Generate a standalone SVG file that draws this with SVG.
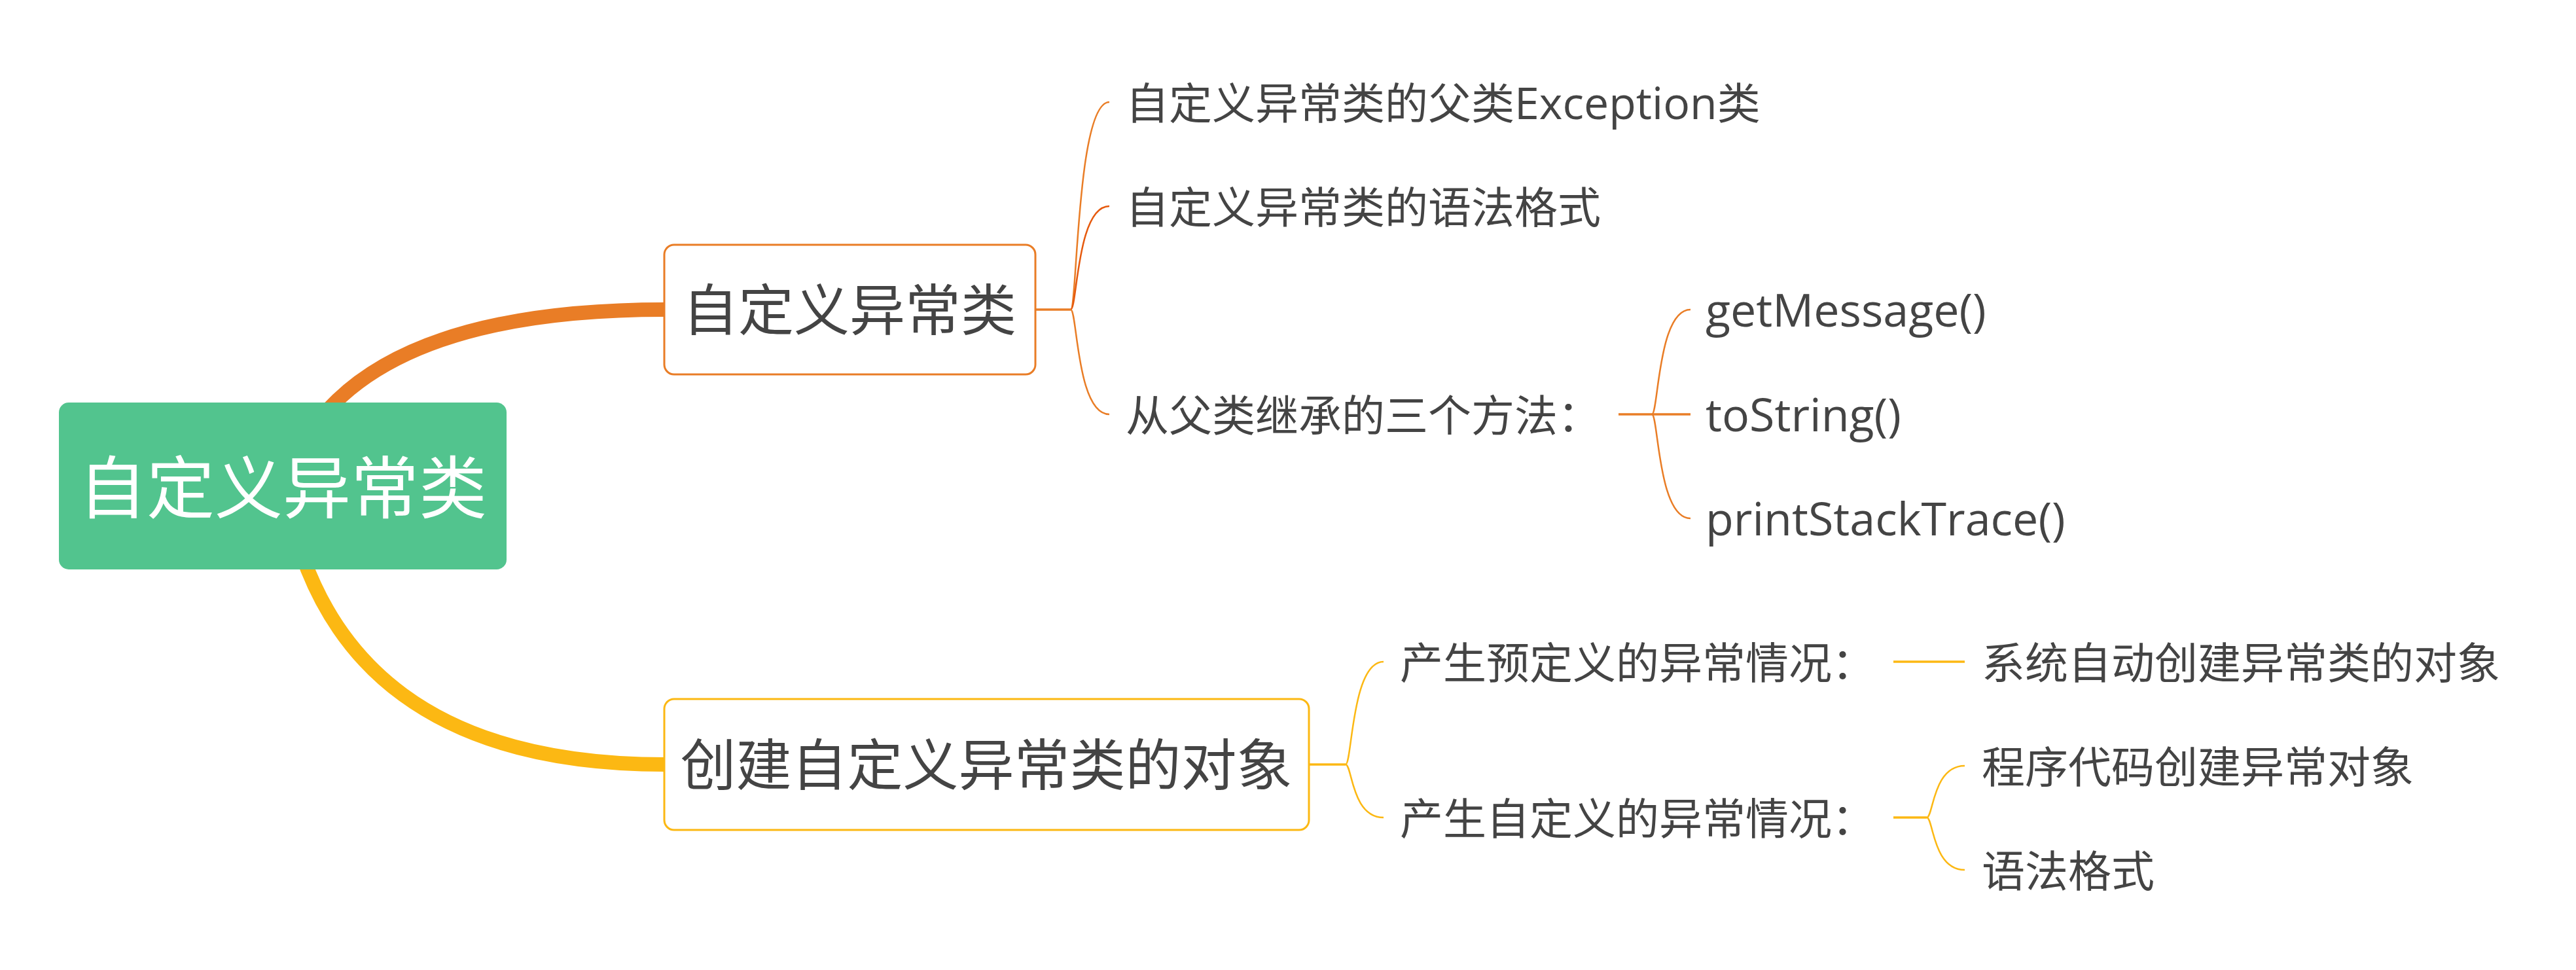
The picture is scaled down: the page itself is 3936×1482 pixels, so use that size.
<svg xmlns="http://www.w3.org/2000/svg" width="3936" height="1482" viewBox="0 0 3936 1482">
<style>
.t{font-family:"Open Sans","Noto Sans CJK SC",sans-serif;fill:#444444;}
.sub{font-size:66px;}
.lat{font-size:70px;}
.br{font-size:85px;}
.root{font-size:104px;fill:#ffffff;}
.o{fill:none;stroke:#E97D26;}
.y{fill:none;stroke:#FCB813;}
.thick{stroke-width:22;stroke-linecap:butt;}
.trunk{stroke-width:3.5;}
.thin{stroke-width:2.5;}
</style>
<rect x="0" y="0" width="3936" height="1482" fill="#ffffff"/>
<g id="connectors">
  <path class="o thick" d="M435,742 Q519,473 1016,473"/>
  <path class="y thick" d="M435,742 Q506,1168 1016,1168"/>
  <path class="o trunk" d="M1583,473 L1636,473"/>
  <path class="o thin" d="M1636,473 C1646,473 1645,156 1695,156"/>
  <path class="thin" fill="none" stroke="#E65A0E" d="M1636,473 C1646,473 1645,315 1695,315"/>
  <path class="o thin" d="M1636,473 C1646,473 1645,633 1695,633"/>
  <path class="o trunk" d="M2473,633 L2583,633"/>
  <path class="o thin" d="M2524,633 C2534,633 2533,473 2583,473"/>
  <path class="o thin" d="M2524,633 C2534,633 2533,792 2583,792"/>
  <path class="y trunk" d="M2001,1168 L2056,1168"/>
  <path class="y thin" d="M2056,1168 C2066,1168 2065,1011 2114,1011"/>
  <path class="y thin" d="M2056,1168 C2066,1168 2065,1249 2114,1249"/>
  <path class="y trunk" d="M2893,1011 L3002,1011"/>
  <path class="y trunk" d="M2893,1249 L2944,1249"/>
  <path class="y thin" d="M2944,1249 C2954,1249 2953,1170 3002,1170"/>
  <path class="y thin" d="M2944,1249 C2954,1249 2953,1329 3002,1329"/>
</g>
<g id="root">
  <rect x="90" y="615" width="684" height="255" rx="15" fill="#52C48E"/>
  <text class="t root" x="432" y="784" text-anchor="middle">自定义异常类</text>
</g>
<g id="branch1">
  <rect x="1015" y="374" width="567" height="198" rx="15" fill="#ffffff" stroke="#E97D26" stroke-width="3"/>
  <text class="t br" x="1298" y="505" text-anchor="middle">自定义异常类</text>
</g>
<g id="b1c1"><text class="t sub" x="1720" y="182">自定义异常类的父类<tspan style="font-size:68px">Exception</tspan>类</text></g>
<g id="b1c2"><text class="t sub" x="1720" y="341">自定义异常类的语法格式</text></g>
<g id="b1c3"><text class="t sub" x="1720" y="659">从父类继承的三个方法：</text></g>
<g id="b1c3g1"><text class="t lat" x="2606" y="499">getMessage()</text></g>
<g id="b1c3g2"><text class="t lat" x="2606" y="659">toString()</text></g>
<g id="b1c3g3"><text class="t lat" x="2606" y="818">printStackTrace()</text></g>
<g id="branch2">
  <rect x="1015" y="1068" width="985" height="200" rx="15" fill="#ffffff" stroke="#FCB813" stroke-width="3"/>
  <text class="t br" x="1507" y="1200" text-anchor="middle">创建自定义异常类的对象</text>
</g>
<g id="b2c1"><text class="t sub" x="2139" y="1037">产生预定义的异常情况：</text></g>
<g id="b2c2"><text class="t sub" x="2139" y="1275">产生自定义的异常情况：</text></g>
<g id="b2c1g1"><text class="t sub" x="3028" y="1037">系统自动创建异常类的对象</text></g>
<g id="b2c2g1"><text class="t sub" x="3028" y="1196">程序代码创建异常对象</text></g>
<g id="b2c2g2"><text class="t sub" x="3028" y="1355">语法格式</text></g>
</svg>
